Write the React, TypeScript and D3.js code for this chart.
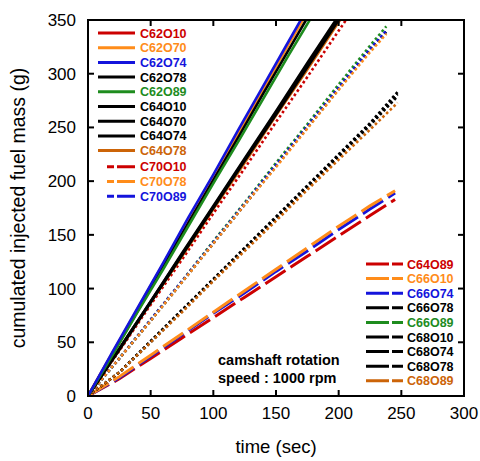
import * as d3 from 'd3';

const W = 480;
const H = 461;
const M = { left: 88, right: 464, top: 20, bottom: 396 };

const RED = '#cc0000';
const ORANGE = '#ff8c1a';
const BLUE = '#1414dc';
const GREEN = '#1e8c1e';
const BLACK = '#000000';
const BROWN = '#cc6408';

const xTicks = [0, 50, 100, 150, 200, 250, 300];
const yTicks = [0, 50, 100, 150, 200, 250, 300, 350];

// time (s) sampling per engine family
const tC62 = [0, 20, 40, 60, 80, 100, 120, 140, 160, 180];
const tC64 = [0, 25, 50, 75, 100, 125, 150, 175, 200, 210];
const tC66 = [0, 25, 50, 75, 100, 125, 150, 175, 200, 225, 238];
const tC68 = [0, 25, 50, 75, 100, 125, 150, 175, 200, 225, 247];
const tC70 = [0, 25, 50, 75, 100, 125, 150, 175, 200, 225, 245];

// cumulated injected fuel mass (g)
const c62o10 = [0, 41, 82, 123, 164, 205, 246, 287, 328, 369];
const c62o70 = [0, 41, 81, 122, 163, 204, 245, 286, 327, 367];
const c62o74 = [0, 42, 83, 124, 166, 206, 248, 289, 330, 371];
const c62o78 = [0, 40, 80, 121, 161, 201, 241, 282, 322, 362];
const c62o89 = [0, 39, 79, 118, 158, 198, 237, 277, 317, 356];

const c64o10 = [0, 44, 88, 132, 176, 220, 264, 308, 352, 370];
const c64o70 = [0, 43, 87, 131, 175, 219, 262, 306, 350, 367];
const c64o74 = [0, 44, 88, 133, 177, 221, 265, 310, 354, 371];
const c64o78 = [0, 43, 87, 130, 174, 217, 261, 304, 348, 365];
const c64o89 = [0, 42, 85, 127, 170, 212, 255, 297, 340, 357];

const c66o10 = [0, 35, 70, 106, 142, 178, 213, 249, 285, 320, 337];
const c66o74 = [0, 35, 71, 107, 143, 179, 215, 251, 287, 323, 340];
const c66o78 = [0, 35, 70, 106, 142, 178, 214, 250, 286, 322, 339];
const c66o89 = [0, 35, 71, 107, 144, 180, 217, 253, 290, 326, 344];

const c68o10 = [0, 22, 51, 80, 108, 137, 166, 195, 224, 253, 281];
const c68o74 = [0, 22, 51, 80, 109, 138, 167, 196, 225, 254, 283];
const c68o78 = [0, 22, 50, 79, 108, 137, 165, 194, 223, 252, 279];
const c68o89 = [0, 22, 50, 78, 107, 135, 163, 192, 220, 248, 273];

const c70o10 = [0, 16, 35, 54, 73, 92, 111, 130, 149, 168, 183];
const c70o78 = [0, 18, 38, 58, 78, 98, 118, 138, 158, 177, 191];
const c70o89 = [0, 17, 37, 57, 77, 96, 116, 135, 155, 174, 189];

type Style = 'solid' | 'dotted' | 'dashed';

const series: { t: number[]; v: number[]; color: string; style: Style }[] = [
  { t: tC70, v: c70o10, color: RED, style: 'dashed' },
  { t: tC70, v: c70o89, color: BLUE, style: 'dashed' },
  { t: tC70, v: c70o78, color: ORANGE, style: 'dashed' },
  { t: tC68, v: c68o10, color: BLACK, style: 'dotted' },
  { t: tC68, v: c68o74, color: BLACK, style: 'dotted' },
  { t: tC68, v: c68o78, color: BLACK, style: 'dotted' },
  { t: tC68, v: c68o89, color: BROWN, style: 'dotted' },
  { t: tC66, v: c66o78, color: BLACK, style: 'dotted' },
  { t: tC66, v: c66o89, color: GREEN, style: 'dotted' },
  { t: tC66, v: c66o74, color: BLUE, style: 'dotted' },
  { t: tC66, v: c66o10, color: ORANGE, style: 'dotted' },
  { t: tC64, v: c64o89, color: RED, style: 'dotted' },
  { t: tC64, v: c64o78, color: BROWN, style: 'solid' },
  { t: tC64, v: c64o70, color: BLACK, style: 'solid' },
  { t: tC64, v: c64o10, color: BLACK, style: 'solid' },
  { t: tC64, v: c64o74, color: BLACK, style: 'solid' },
  { t: tC62, v: c62o10, color: RED, style: 'solid' },
  { t: tC62, v: c62o70, color: ORANGE, style: 'solid' },
  { t: tC62, v: c62o78, color: BLACK, style: 'solid' },
  { t: tC62, v: c62o89, color: GREEN, style: 'solid' },
  { t: tC62, v: c62o74, color: BLUE, style: 'solid' },
];

const legendTop = [
  ['C62O10', RED, 'solid'],
  ['C62O70', ORANGE, 'solid'],
  ['C62O74', BLUE, 'solid'],
  ['C62O78', BLACK, 'solid'],
  ['C62O89', GREEN, 'solid'],
  ['C64O10', BLACK, 'solid'],
  ['C64O70', BLACK, 'solid'],
  ['C64O74', BLACK, 'solid'],
  ['C64O78', BROWN, 'solid'],
  ['C70O10', RED, 'dash'],
  ['C70O78', ORANGE, 'dash'],
  ['C70O89', BLUE, 'dash'],
];

const legendBottom = [
  ['C64O89', RED],
  ['C66O10', ORANGE],
  ['C66O74', BLUE],
  ['C66O78', BLACK],
  ['C66O89', GREEN],
  ['C68O10', BLACK],
  ['C68O74', BLACK],
  ['C68O78', BLACK],
  ['C68O89', BROWN],
];

const FONT = '"Liberation Sans", Arial, Helvetica, sans-serif';

export default function App() {
  const x = d3.scaleLinear().domain([0, 300]).range([M.left, M.right]);
  const y = d3.scaleLinear().domain([0, 350]).range([M.bottom, M.top]);
  const line = d3
    .line<[number, number]>()
    .x((d) => x(d[0]))
    .y((d) => y(d[1]));

  const dash = (s: Style) =>
    s === 'dotted' ? '2.6 2.6' : s === 'dashed' ? '24 6' : undefined;

  return (
    <svg
      width={W}
      height={H}
      style={{ position: 'absolute', left: 0, top: 0, background: '#fff' }}
      fontFamily={FONT}
    >
      <defs>
        <clipPath id="plotClip">
          <rect x={M.left} y={M.top} width={M.right - M.left} height={M.bottom - M.top} />
        </clipPath>
      </defs>

      <g clipPath="url(#plotClip)">
        {series.map((s, i) => (
          <path
            key={i}
            d={line(s.t.map((t, k) => [t, s.v[k]] as [number, number])) || ''}
            fill="none"
            stroke={s.color}
            strokeWidth={s.style === 'dashed' ? 3 : 2.6}
            strokeDasharray={dash(s.style)}
          />
        ))}
      </g>

      {/* frame */}
      <rect
        x={M.left}
        y={M.top}
        width={M.right - M.left}
        height={M.bottom - M.top}
        fill="none"
        stroke="#000"
        strokeWidth={2}
      />

      {/* ticks */}
      {xTicks.map((t) => (
        <g key={'x' + t}>
          <line x1={x(t)} x2={x(t)} y1={M.bottom} y2={M.bottom - 6} stroke="#000" strokeWidth={2} />
          <line x1={x(t)} x2={x(t)} y1={M.top} y2={M.top + 6} stroke="#000" strokeWidth={2} />
          <text x={x(t)} y={M.bottom + 23} textAnchor="middle" fontSize={17}>
            {t}
          </text>
        </g>
      ))}
      {yTicks.map((t) => (
        <g key={'y' + t}>
          <line x1={M.left} x2={M.left + 6} y1={y(t)} y2={y(t)} stroke="#000" strokeWidth={2} />
          <line x1={M.right} x2={M.right - 6} y1={y(t)} y2={y(t)} stroke="#000" strokeWidth={2} />
          <text x={M.left - 12} y={y(t) + 6} textAnchor="end" fontSize={17}>
            {t}
          </text>
        </g>
      ))}

      {/* axis titles */}
      <text x={(M.left + M.right) / 2} y={453} textAnchor="middle" fontSize={18.5}>
        time (sec)
      </text>
      <text
        transform={`translate(25, ${(M.top + M.bottom) / 2}) rotate(-90)`}
        textAnchor="middle"
        fontSize={19.5}
      >
        cumulated injected fuel mass (g)
      </text>

      {/* legends */}
      {legendTop.map(([name, color, st], i) => {
        const ly = 33 + i * 14.7 + (i >= 9 ? 1.5 : 0);
        return (
          <g key={name}>
            {st === 'solid' ? (
              <line x1={98} x2={135} y1={ly} y2={ly} stroke={color} strokeWidth={3} />
            ) : (
              <line
                x1={107}
                x2={135}
                y1={ly}
                y2={ly}
                stroke={color}
                strokeWidth={3}
                strokeDasharray="7 3 20"
              />
            )}
            <text x={140} y={ly + 4.5} fontSize={12.5} fontWeight="bold" fill={color}>
              {name}
            </text>
          </g>
        );
      })}
      {legendBottom.map(([name, color], i) => {
        const ly = 264 + i * 14.6;
        return (
          <g key={name}>
            <line
              x1={366}
              x2={403}
              y1={ly}
              y2={ly}
              stroke={color}
              strokeWidth={3}
              strokeDasharray="23 3 12"
            />
            <text x={407} y={ly + 4.5} fontSize={12.5} fontWeight="bold" fill={color}>
              {name}
            </text>
          </g>
        );
      })}

      {/* annotation */}
      <text x={218} y={365} fontSize={14.5} fontWeight="bold">
        camshaft rotation
      </text>
      <text x={218} y={383} fontSize={14.5} fontWeight="bold">
        speed : 1000 rpm
      </text>
    </svg>
  );
}
